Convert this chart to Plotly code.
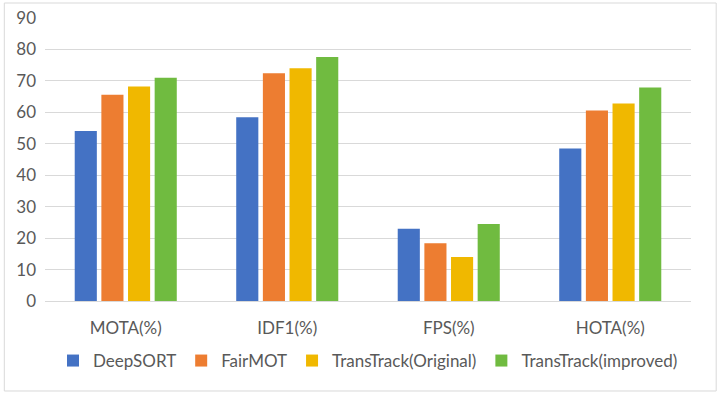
import plotly.graph_objects as go

categories = ["MOTA(%)", "IDF1(%)", "FPS(%)", "HOTA(%)"]
series_names = ["DeepSORT", "FairMOT", "TransTrack(Original)", "TransTrack(improved)"]
deepsort = [54.1, 58.4, 23.0, 48.5]
fairmot = [65.6, 72.4, 18.4, 60.6]
transtrack_orig = [68.2, 74.0, 14.0, 62.8]
transtrack_impr = [71.0, 77.6, 24.5, 67.9]
colors = ["#4472C4", "#ED7D31", "#F0B800", "#70BB40"]

fig = go.Figure()
for name, vals, c in zip(series_names, [deepsort, fairmot, transtrack_orig, transtrack_impr], colors):
    fig.add_trace(go.Bar(x=categories, y=vals, name=name, marker_color=c, marker_line_width=0))

font_family = "Lato, 'Open Sans', sans-serif"
fig.update_layout(
    width=720, height=394,
    margin=dict(l=45, r=29, t=18, b=93, autoexpand=False),
    paper_bgcolor="white", plot_bgcolor="white",
    barmode="group", bargap=0.34, bargroupgap=0.17,
    font=dict(family=font_family, size=17, color="#595959"),
    showlegend=True,
    legend=dict(orientation="h", x=0.5, xanchor="center", y=-0.212, yanchor="middle",
                font=dict(size=17, color="#595959"), itemwidth=30, tracegroupgap=0,
                itemsizing="constant"),
    xaxis=dict(showgrid=False, showline=True, linecolor="#D9D9D9", linewidth=1,
               ticks="", automargin=False, ticklabelstandoff=12,
               tickfont=dict(size=17, color="#595959")),
    yaxis=dict(range=[0, 90], dtick=10, showgrid=True, gridcolor="#D9D9D9", gridwidth=1,
               zeroline=False, showline=False, ticks="", automargin=False, ticklabelstandoff=8,
               tickfont=dict(size=17, color="#595959")),
    shapes=[dict(type="rect", xref="paper", yref="paper", x0=-0.063, x1=1.039, y0=-0.318, y1=1.053,
                 line=dict(color="#D9D9D9", width=1), fillcolor="rgba(0,0,0,0)", layer="below")],
)
fig.write_html("out.html", config={"displayModeBar": False})

with open("out.html", "r", encoding="utf-8") as f:
    html = f.read()
html = html.replace("<head>", "<head><style>body{margin:0;padding:0;}</style>", 1)
with open("out.html", "w", encoding="utf-8") as f:
    f.write(html)
